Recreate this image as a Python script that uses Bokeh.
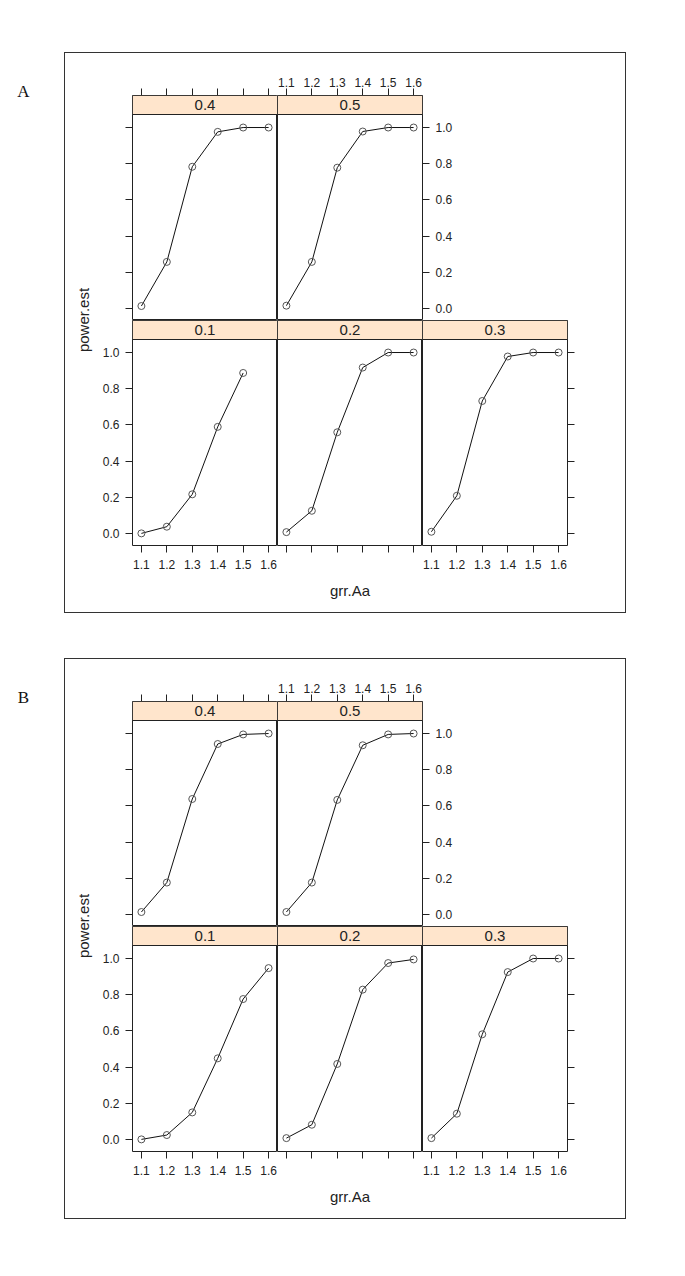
import math
from bokeh.plotting import figure
from bokeh.layouts import row, column
from bokeh.models import (FixedTicker, LinearAxis, Range1d, BoxAnnotation, Label,
                          Spacer, CustomJSTickFormatter, NumeralTickFormatter)
from bokeh.embed import file_html
from bokeh.resources import INLINE

# ---------------- data ----------------
grr_aa = [1.1, 1.2, 1.3, 1.4, 1.5, 1.6]
x_ticks = [1.1, 1.2, 1.3, 1.4, 1.5, 1.6]
y_ticks = [0.0, 0.2, 0.4, 0.6, 0.8, 1.0]
strip_labels = ["0.1", "0.2", "0.3", "0.4", "0.5"]
chart_letters = ["A", "B"]
x_label = "grr.Aa"
y_label = "power.est"

# chart A (power.est by grr.Aa, per panel)
a_p01 = [0.0, 0.037, 0.216, 0.589, 0.887]
a_p02 = [0.007, 0.125, 0.559, 0.917, 1.0, 1.0]
a_p03 = [0.009, 0.208, 0.732, 0.978, 1.0, 1.0]
a_p04 = [0.013, 0.257, 0.783, 0.976, 1.0, 1.0]
a_p05 = [0.015, 0.257, 0.778, 0.978, 1.0, 1.0]

# chart B
b_p01 = [0.0, 0.024, 0.149, 0.448, 0.776, 0.947]
b_p02 = [0.007, 0.081, 0.417, 0.828, 0.975, 0.995]
b_p03 = [0.007, 0.142, 0.581, 0.925, 1.0, 1.0]
b_p04 = [0.013, 0.176, 0.638, 0.942, 0.995, 1.0]
b_p05 = [0.013, 0.176, 0.633, 0.935, 0.995, 1.0]

# ---------------- styling / layout constants ----------------
FONT = "Liberation Sans"
SERIF = "Liberation Serif"
TXT = "#222222"
LINE = "#222222"
STRIP_BG = "#ffe5cc"
FW, FH, STRIP = 145, 225, 19
X0, X1 = 1.065, 1.635
Y0, Y1 = -0.067, 1.072
YEND = Y1 + (Y1 - Y0) * STRIP / (FH - STRIP)

TOP_B, BOT_B, LEFT_B, RIGHT_B3, RIGHT_B5 = 42, 67, 33, 58, 32
YLAB_W = 34
BOX_H = TOP_B + 2 * FH + BOT_B
LETTER_W = 64


def make_axis(kind, is_x):
    ax = LinearAxis()
    ax.ticker = FixedTicker(ticks=x_ticks if is_x else y_ticks)
    ax.axis_line_color = None
    ax.major_tick_line_color = LINE
    ax.major_tick_line_width = 1
    ax.major_tick_out = 7
    ax.major_tick_in = 0
    ax.minor_tick_line_color = None
    ax.major_label_text_font = FONT
    ax.major_label_text_font_size = "12px"
    ax.major_label_text_color = TXT
    if kind == "labels":
        ax.formatter = NumeralTickFormatter(format="0.0")
    else:
        ax.formatter = CustomJSTickFormatter(code="return ''")
        ax.major_label_standoff = 0
    return ax


def panel(vals, strip, axes, mb):
    p = figure(frame_width=FW, frame_height=FH,
               x_range=Range1d(X0, X1), y_range=Range1d(Y0, YEND),
               x_axis_location=None, y_axis_location=None,
               output_backend="svg", toolbar_location=None,
               min_border_top=mb[0], min_border_right=mb[1],
               min_border_bottom=mb[2], min_border_left=mb[3])
    p.xgrid.grid_line_color = None
    p.ygrid.grid_line_color = None
    p.outline_line_color = LINE
    p.outline_line_width = 1
    p.background_fill_color = "white"
    p.border_fill_color = "white"
    xs = grr_aa[:len(vals)]
    p.line(xs, vals, line_color="#111111", line_width=1)
    p.scatter(xs, vals, marker="circle", size=7, fill_color=None,
              line_color="#555555", line_width=1)
    p.add_layout(BoxAnnotation(left=X0, right=X1, bottom=Y1, top=YEND,
                               fill_color=STRIP_BG, fill_alpha=1.0,
                               line_color=LINE, line_alpha=1.0, line_width=1))
    p.add_layout(Label(x=(X0 + X1) / 2, y=(Y1 + YEND) / 2, text=strip,
                       text_align="center", text_baseline="middle",
                       text_font=FONT, text_font_size="15px", text_color=TXT))
    for side, kind in axes.items():
        ax = make_axis(kind, side in ("above", "below"))
        if side in ("left", "right"):
            ax.major_label_standoff = 6 if kind == "labels" else 0
        elif side == "above" and kind == "labels":
            ax.major_label_standoff = 2
        elif side == "below" and kind == "labels":
            ax.major_label_standoff = 7
        p.add_layout(ax, side)
    return p


def chart(letter, d01, d02, d03, d04, d05):
    p04 = panel(d04, strip_labels[3], {"left": "ticks", "above": "ticks"},
                (TOP_B, 0, 0, LEFT_B))
    p05 = panel(d05, strip_labels[4], {"above": "labels", "right": "labels"},
                (TOP_B, RIGHT_B5, 0, 0))
    p01 = panel(d01, strip_labels[0], {"left": "labels", "below": "labels"},
                (0, 0, BOT_B, LEFT_B))
    p02 = panel(d02, strip_labels[1], {"below": "ticks"},
                (0, 0, BOT_B, 0))
    ax = p02.below[0]
    ax.axis_label = x_label
    ax.axis_label_text_font = FONT
    ax.axis_label_text_font_size = "15px"
    ax.axis_label_text_font_style = "normal"
    ax.axis_label_text_color = TXT
    ax.axis_label_standoff = 29
    p03 = panel(d03, strip_labels[2], {"below": "labels", "right": "ticks"},
                (0, RIGHT_B3, BOT_B, 0))

    ylab = figure(width=YLAB_W, height=BOX_H, min_border=0,
                  x_range=Range1d(0, YLAB_W), y_range=Range1d(0, BOX_H),
                  x_axis_location=None, y_axis_location=None,
                  output_backend="svg", toolbar_location=None)
    ylab.xgrid.grid_line_color = None
    ylab.ygrid.grid_line_color = None
    ylab.outline_line_color = None
    ylab.add_layout(Label(x=18, y=BOX_H - (TOP_B + FH - 0.5), text=y_label,
                          angle=math.pi / 2, text_align="center",
                          text_baseline="middle", text_font=FONT,
                          text_font_size="15px", text_color=TXT))

    grid = column(row(p04, p05), row(p01, p02, p03))
    box = row(ylab, grid, styles={"border": "1px solid #333333"})

    lf = figure(width=LETTER_W, height=100, min_border=0,
                x_range=Range1d(0, LETTER_W), y_range=Range1d(0, 100),
                x_axis_location=None, y_axis_location=None,
                output_backend="svg", toolbar_location=None)
    lf.xgrid.grid_line_color = None
    lf.ygrid.grid_line_color = None
    lf.outline_line_color = None
    lf.add_layout(Label(x=23, y=61, text=letter, text_align="center",
                        text_baseline="middle", text_font=SERIF,
                        text_font_size="17px", text_color="#111111"))
    return row(lf, box)


chart_a = chart(chart_letters[0], a_p01, a_p02, a_p03, a_p04, a_p05)
chart_b = chart(chart_letters[1], b_p01, b_p02, b_p03, b_p04, b_p05)

page = column(Spacer(height=52), chart_a, Spacer(height=45), chart_b)

open("out.html", "w").write(file_html(page, INLINE))
